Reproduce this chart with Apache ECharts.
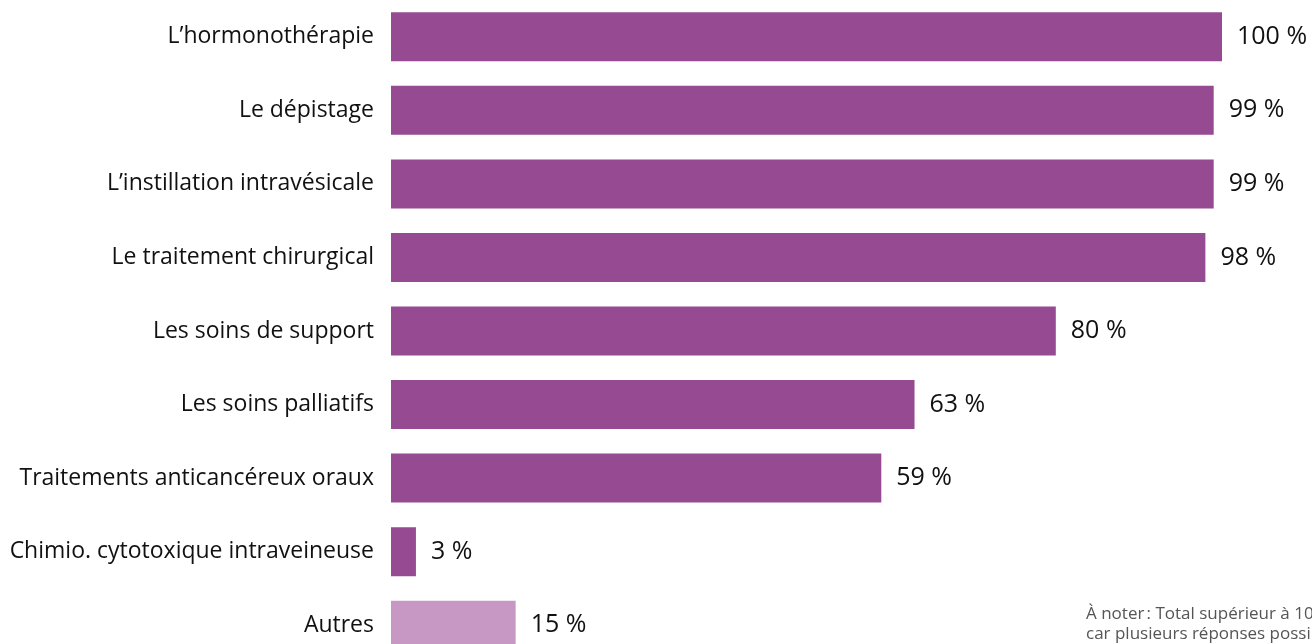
<!DOCTYPE html>
<html><head><meta charset="utf-8">
<script src="https://cdn.jsdelivr.net/npm/echarts@6/dist/echarts.min.js"></script>
<style>html,body{margin:0;padding:0;background:#fff;overflow:hidden}#c{width:1312px;height:700px}</style>
</head><body><div id="c"></div>
<script>
const categories = ["L’hormonothérapie","Le dépistage","L’instillation intravésicale","Le traitement chirurgical","Les soins de support","Les soins palliatifs","Traitements anticancéreux oraux","Chimio. cytotoxique intraveineuse","Autres"];
const values = [100, 99, 99, 98, 80, 63, 59, 3, 15];
const highlight = [false,false,false,false,false,false,false,false,true];
const noteLines = ["À noter\u202F: Total supérieur à 100 %", "car plusieurs réponses possibles"];

const chart = echarts.init(document.getElementById('c'), null, {renderer:'canvas'});
chart.setOption({
  animation:false,
  grid:{left:391, top:-1, width:831, height:663, containLabel:false},
  xAxis:{type:'value', min:0, max:100, show:false},
  yAxis:{type:'category', data:categories, inverse:true,
    axisLine:{show:false}, axisTick:{show:false},
    axisLabel:{color:'#111', fontSize:23, fontFamily:'"Open Sans", sans-serif', margin:17}},
  series:[{type:'bar', barWidth:49,
    data: values.map((v,i)=>({value:v, itemStyle:{color: highlight[i] ? '#c898c5' : '#954a92'}})),
    label:{show:true, position:'right', distance:15, color:'#111', fontSize:25,
      fontFamily:'"Open Sans", sans-serif', formatter: p => p.value + ' %'}}],
  graphic:[{type:'text', left:1086, top:604, style:{text: noteLines.join('\n'), fill:'#555', fontSize:17, lineHeight:20, fontFamily:'"Open Sans", sans-serif'}}]
});
</script></body></html>
